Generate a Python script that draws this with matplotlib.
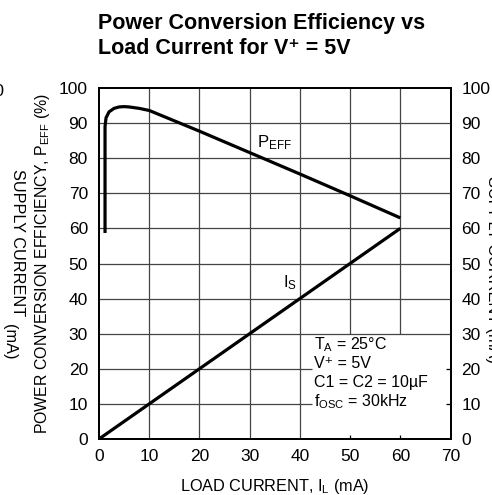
import numpy as np
import matplotlib
matplotlib.use("Agg")
import matplotlib.pyplot as plt

plt.rcParams['font.family'] = ['Liberation Sans Narrow', 'Liberation Sans', 'DejaVu Sans']
plt.rcParams['mathtext.default'] = 'regular'

# data
load_eff = [1.2, 1.2, 1.4, 2, 3, 4, 5, 6, 8, 10, 20, 30, 40, 50, 60]
p_eff = [58.7, 89, 91.5, 93.2, 94.2, 94.6, 94.7, 94.6, 94.2, 93.6, 87.7, 81.6, 75.5, 69.3, 63.0]
load_is = [0, 60]
i_s = [0, 60]
xticks = [0, 10, 20, 30, 40, 50, 60, 70]
yticks = [0, 10, 20, 30, 40, 50, 60, 70, 80, 90, 100]

W, H = 492, 495
fig = plt.figure(figsize=(W / 100, H / 100), dpi=100)
ax = fig.add_axes([99 / W, 1 - 439 / H, 351.5 / W, 351 / H])

ax.set_xlim(0, 70)
ax.set_ylim(0, 100)

# grid, cleared behind the condition box in the lower right
gc = '#444444'
glw = 0.9
for x in [10, 20, 30, 40]:
    ax.axvline(x, color=gc, lw=glw, zorder=1)
for x in [50, 60]:
    ax.vlines(x, 30, 100, color=gc, lw=glw, zorder=1)
    ax.vlines(x, 0, 1.2, color='black', lw=glw, zorder=1)
for y in [30, 40, 50, 60, 70, 80, 90]:
    ax.axhline(y, color=gc, lw=glw, zorder=1)
for y in [10, 20]:
    ax.hlines(y, 0, 42.5, color=gc, lw=glw, zorder=1)
    ax.hlines(y, 69.2, 70, color='black', lw=glw, zorder=1)

ax.plot(load_eff, p_eff, color='black', lw=2.3, solid_capstyle='butt', zorder=3)
ax.plot(load_is, i_s, color='black', lw=2.3, solid_capstyle='butt', zorder=3)

ax.text(31.4, 83.2, 'P$_{EFF}$', fontsize=12, ha='left', va='baseline')
ax.text(36.6, 43.3, 'I$_S$', fontsize=12, ha='left', va='baseline')

cond = ['T$_A$ = 25°C', 'V⁺ = 5V', 'C1 = C2 = 10µF', 'f$_{OSC}$ = 30kHz']
for i, s in enumerate(cond):
    ax.text(42.8, 25.5 - i * 5.4, s, fontsize=11.5, ha='left', va='baseline')

for sp in ax.spines.values():
    sp.set_linewidth(1.3)

ax.set_xticks(xticks)
ax.set_yticks(yticks)
ax.tick_params(length=0, labelsize=12.5, pad=8)
ax.tick_params(axis='x', pad=7)

ax2 = ax.twinx()
ax2.set_ylim(0, 100)
ax2.set_yticks(yticks)
ax2.tick_params(length=0, labelsize=12.5, pad=8)
for sp in ax2.spines.values():
    sp.set_linewidth(1.3)

ax.set_xlabel('LOAD CURRENT, I$_L$ (mA)', fontsize=11.7)
ax.xaxis.set_label_coords(0.5, -0.108)
ax.set_ylabel('POWER CONVERSION EFFICIENCY, P$_{EFF}$ (%)', fontsize=11.4)
ax.yaxis.set_label_coords(-0.135, 0.5)

fig.text(98 / W, 1 - 13 / H, 'Power Conversion Efficiency vs\nLoad Current for V⁺ = 5V',
         fontsize=15.5, fontweight='bold', ha='left', va='top', linespacing=1.25)

# neighbouring chart labels, cut at the figure edges
fig.text(5 / W, 1 - 91 / H, '100', fontsize=12.5, ha='right', va='center')
fig.text(17 / W, 1 - 243 / H, 'SUPPLY CURRENT', fontsize=11.7, rotation=270,
         ha='center', va='center')
fig.text(9 / W, 1 - 342 / H, '(mA)', fontsize=11.7, rotation=270, ha='center', va='center')
fig.text(493 / W, 1 - 270 / H, 'SUPPLY CURRENT (mA)', fontsize=11.7, rotation=270,
         ha='center', va='center')

fig.savefig('out.png', dpi=100)
